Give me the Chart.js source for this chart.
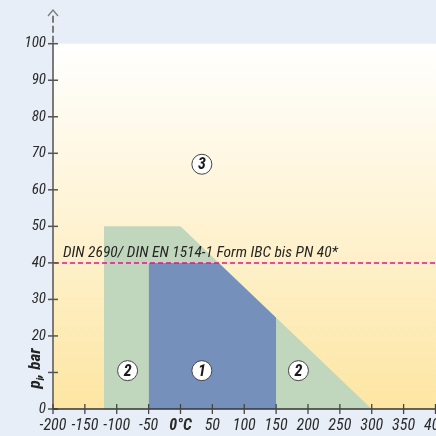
<!DOCTYPE html>
<html><head><meta charset="utf-8">
<script src="https://cdn.jsdelivr.net/npm/chart.js@4/dist/chart.umd.min.js"></script>
<style>html,body{margin:0;padding:0;background:#e8eef7;}canvas{display:block;}</style>
</head><body>
<canvas id="c" width="436" height="436"></canvas>
<script>
// ---- data ----
const xTickValues = [-200,-150,-100,-50,0,50,100,150,200,250,300,350,400];
const yTickValues = [0,10,20,30,40,50,60,70,80,90,100];
const region2X = [-120,-120,0,300];
const region2Y = [0,50,50,0];
const region1X = [-50,-50,60,150,150];
const region1Y = [0,40,40,25,0];
const limitLineY = 40;
const limitLabel = 'DIN 2690/ DIN EN 1514-1 Form IBC bis PN 40*';
const markerLabels = ['3','2','1','2'];
const markerX = [33.5,-83,33.5,185];
const markerY = [67,10.5,10.5,10.5];
const xTitleZero = '0°C';
const yTitle = ['p','i',', bar'];

const FONT = '"Roboto Condensed","Liberation Sans",sans-serif';
const toPts = (xs, ys) => xs.map((x,i)=>({x, y: ys[i]}));

const bgPlugin = {
  id:'bg',
  beforeDraw(chart){
    const {ctx, chartArea:a} = chart;
    const g = ctx.createLinearGradient(0,a.top,0,a.bottom);
    g.addColorStop(0,'#ffffff');
    g.addColorStop(1,'#fde6a3');
    ctx.save(); ctx.fillStyle=g; ctx.fillRect(a.left,a.top,a.right-a.left,a.bottom-a.top); ctx.restore();
  },
  afterDatasetsDraw(chart){
    const {ctx, chartArea:a, scales:{x,y}} = chart;
    ctx.save();
    const ly = Math.round(y.getPixelForValue(limitLineY));
    ctx.strokeStyle='#e0158a'; ctx.lineWidth=1.5; ctx.setLineDash([5,3]);
    ctx.beginPath(); ctx.moveTo(a.left+1, ly); ctx.lineTo(a.right, ly); ctx.stroke();
    ctx.setLineDash([]);
    ctx.restore();
    ctx.save();
    ctx.font='italic 15px '+FONT; ctx.textBaseline='alphabetic'; ctx.textAlign='left'; ctx.fillStyle='#262626';
    const w = ctx.measureText(limitLabel).width;
    const target = 275;
    ctx.translate(a.left+10, ly-6); ctx.scale(target/w,1);
    ctx.fillText(limitLabel,0,0);
    ctx.restore();

    const meta = chart.getDatasetMeta(2);
    ctx.save();
    ctx.fillStyle='#1a1a1a'; ctx.font='italic bold 16px '+FONT; ctx.textAlign='center'; ctx.textBaseline='middle';
    meta.data.forEach((el,i)=>{ ctx.fillText(markerLabels[i], el.x, el.y+1); });
    ctx.restore();
  },
  afterDraw(chart){
    const {ctx, chartArea:a, scales:{x,y}} = chart;
    ctx.save();
    const ax = a.left;
    ctx.strokeStyle='#7a7a7a'; ctx.lineWidth=2;
    ctx.beginPath(); ctx.moveTo(ax, a.bottom); ctx.lineTo(ax, a.top); ctx.stroke();
    ctx.setLineDash([7,3]);
    ctx.beginPath(); ctx.moveTo(ax, a.top-1); ctx.lineTo(ax, 14); ctx.stroke();
    ctx.setLineDash([]);
    ctx.lineWidth=1.2;
    ctx.beginPath(); ctx.moveTo(ax-5, 16); ctx.lineTo(ax, 10); ctx.lineTo(ax+5, 16); ctx.stroke();
    ctx.strokeStyle='#555'; ctx.lineWidth=1.5;
    yTickValues.forEach(v=>{ const py=y.getPixelForValue(v); ctx.beginPath(); ctx.moveTo(ax-5,py); ctx.lineTo(ax+5,py); ctx.stroke(); });
    ctx.strokeStyle='#333'; ctx.lineWidth=1.5;
    ctx.beginPath(); ctx.moveTo(ax, a.bottom); ctx.lineTo(a.right, a.bottom); ctx.stroke();
    ctx.strokeStyle='#444'; ctx.lineWidth=1.3;
    xTickValues.forEach(v=>{ const px=x.getPixelForValue(v); ctx.beginPath(); ctx.moveTo(px,a.bottom-5); ctx.lineTo(px,a.bottom+5); ctx.stroke(); });
    // y title
    ctx.translate(36, y.getPixelForValue(10)-4);
    ctx.rotate(-Math.PI/2);
    ctx.fillStyle='#222'; ctx.textBaseline='middle'; ctx.textAlign='left';
    ctx.font='italic bold 17px '+FONT;
    const w1=ctx.measureText(yTitle[0]).width;
    ctx.font='italic bold 11px '+FONT;
    const w2=ctx.measureText(yTitle[1]).width;
    ctx.font='italic bold 17px '+FONT;
    const w3=ctx.measureText(yTitle[2]).width;
    let sx=-(w1+w2+w3)/2;
    ctx.fillText(yTitle[0], sx, 0); sx+=w1;
    ctx.font='italic bold 11px '+FONT; ctx.fillText(yTitle[1], sx, 5); sx+=w2;
    ctx.font='italic bold 17px '+FONT; ctx.fillText(yTitle[2], sx, 0);
    ctx.restore();
  }
};

new Chart(document.getElementById('c'), {
  type:'scatter',
  data:{ datasets:[
    { order:2, data: toPts(region2X, region2Y), showLine:true, fill:'origin', backgroundColor:'#c1d7bd', borderWidth:0, pointRadius:0, tension:0 },
    { order:1, data: toPts(region1X, region1Y), showLine:true, fill:'origin', backgroundColor:'#7591bb', borderWidth:0, pointRadius:0, tension:0 },
    { order:0, data: toPts(markerX, markerY), showLine:false, pointRadius:10, pointHoverRadius:10, backgroundColor:'#ffffff', borderColor:'#444', borderWidth:1 }
  ]},
  options:{
    responsive:false, animation:false, devicePixelRatio:1,
    layout:{ autoPadding:false, padding:{ top:43.7, left:0, right:0, bottom:0 } },
    plugins:{ legend:{display:false}, tooltip:{enabled:false} },
    events:[],
    scales:{
      x:{
        type:'linear', min:-200, max:400.8,
        grid:{display:false, drawTicks:false}, border:{display:false},
        afterBuildTicks(s){ s.ticks = xTickValues.map(v=>({value:v})); },
        afterFit(s){ s.height=27; s.paddingLeft=0; s.paddingRight=0; },
        ticks:{
          padding:7, color:'#2a2a2a', maxRotation:0, autoSkip:false,
          callback:(v)=> v===0 ? xTitleZero : String(v),
          font:(c)=>({ family:FONT, size:16, style:'italic', weight: (c.tick && c.tick.value===0) ? 'bold' : 'normal' })
        }
      },
      y:{
        type:'linear', min:0, max:100,
        grid:{display:false, drawTicks:false}, border:{display:false},
        afterBuildTicks(s){ s.ticks = yTickValues.map(v=>({value:v})); },
        afterFit(s){ s.width=53; s.paddingTop=0; s.paddingBottom=0; },
        ticks:{
          padding:7, color:'#2a2a2a', autoSkip:false,
          callback:(v)=> v===10 ? '' : String(v),
          font:{ family:FONT, size:15, style:'italic' }
        }
      }
    }
  },
  plugins:[bgPlugin]
});
</script>
</body></html>
